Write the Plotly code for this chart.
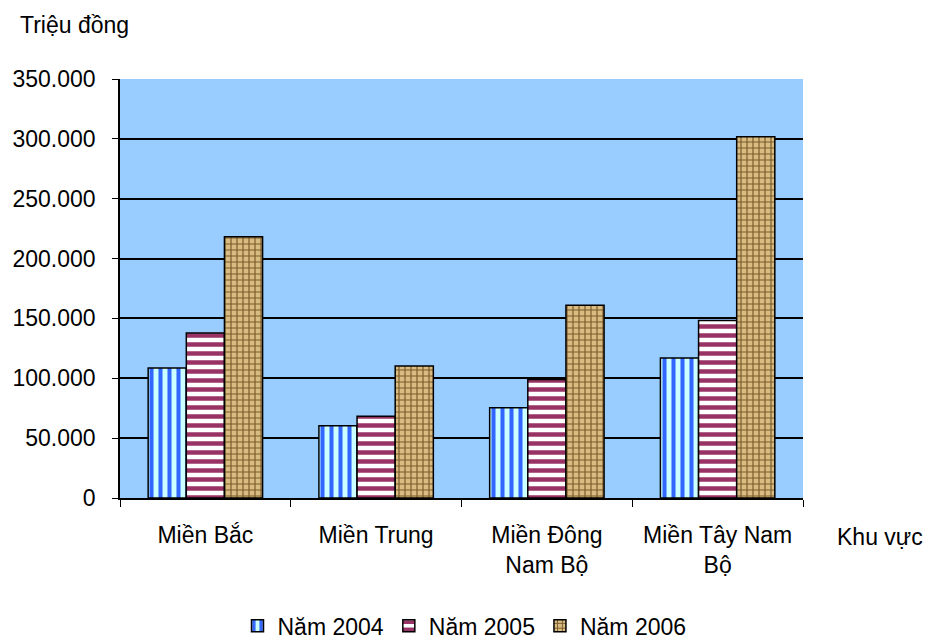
import plotly.graph_objects as go

# Regional totals, million VND
regions = ["Miền Bắc", "Miền Trung", "Miền Đông<br>Nam Bộ", "Miền Tây Nam<br>Bộ"]
years = ["Năm 2004", "Năm 2005", "Năm 2006"]
values_2004 = [108600, 60300, 75300, 116900]
values_2005 = [137800, 68300, 98900, 148300]
values_2006 = [218300, 110300, 161100, 301700]
y_ticks = [0, 50000, 100000, 150000, 200000, 250000, 300000, 350000]

FONT = "Liberation Sans, Arial, sans-serif"
FS = 23

styles = [
    dict(shape="|", fgcolor="#3366FF", bgcolor="#CCFFFF", size=9, solidity=0.45, fgopacity=1),
    dict(shape="-", fgcolor="#993366", bgcolor="#FFFFFF", size=9, solidity=0.5, fgopacity=1),
    dict(shape="+", fgcolor="#7A5A2A", bgcolor="#D9BC82", size=6, solidity=0.35, fgopacity=1),
]

fig = go.Figure()
for name, vals, pat in zip(years, [values_2004, values_2005, values_2006], styles):
    fig.add_trace(go.Bar(
        x=regions, y=vals, name=name,
        marker=dict(pattern=pat, line=dict(color="black", width=1.5)),
    ))

fig.update_layout(
    width=929, height=643,
    margin=dict(l=120, r=126, t=79, b=145, autoexpand=False),
    paper_bgcolor="white",
    plot_bgcolor="#99CCFF",
    separators=",.",
    barmode="group",
    bargap=0.33, bargroupgap=0,
    font=dict(family=FONT, size=FS, color="black"),
    showlegend=True,
    legend=dict(orientation="h", x=0.5, xanchor="center", xref="container",
                y=-0.305, yanchor="middle", yref="paper",
                itemwidth=30, font=dict(size=FS), traceorder="normal"),
    xaxis=dict(
        type="category", tickson="boundaries", ticks="outside", ticklen=7,
        tickcolor="black", showline=True, linecolor="black", linewidth=1.5,
        showgrid=False, tickfont=dict(size=FS), ticklabelstandoff=16,
    ),
    yaxis=dict(
        range=[0, 350000], tickvals=y_ticks, tickformat=",d",
        ticks="outside", ticklen=6, tickcolor="black",
        showline=True, linecolor="black", linewidth=1.5,
        showgrid=True, gridcolor="black", gridwidth=1.5,
        zeroline=False, tickfont=dict(size=FS), ticklabelstandoff=12,
    ),
    annotations=[
        dict(text="Triệu đồng", xref="paper", yref="paper", x=-0.149, y=1.129,
             xanchor="left", yanchor="middle", showarrow=False, font=dict(size=FS)),
        dict(text="Khu vực", xref="paper", yref="paper", x=1.047, y=-0.093,
             xanchor="left", yanchor="middle", showarrow=False, font=dict(size=FS)),
    ],
)

fig.write_html("out.html")
